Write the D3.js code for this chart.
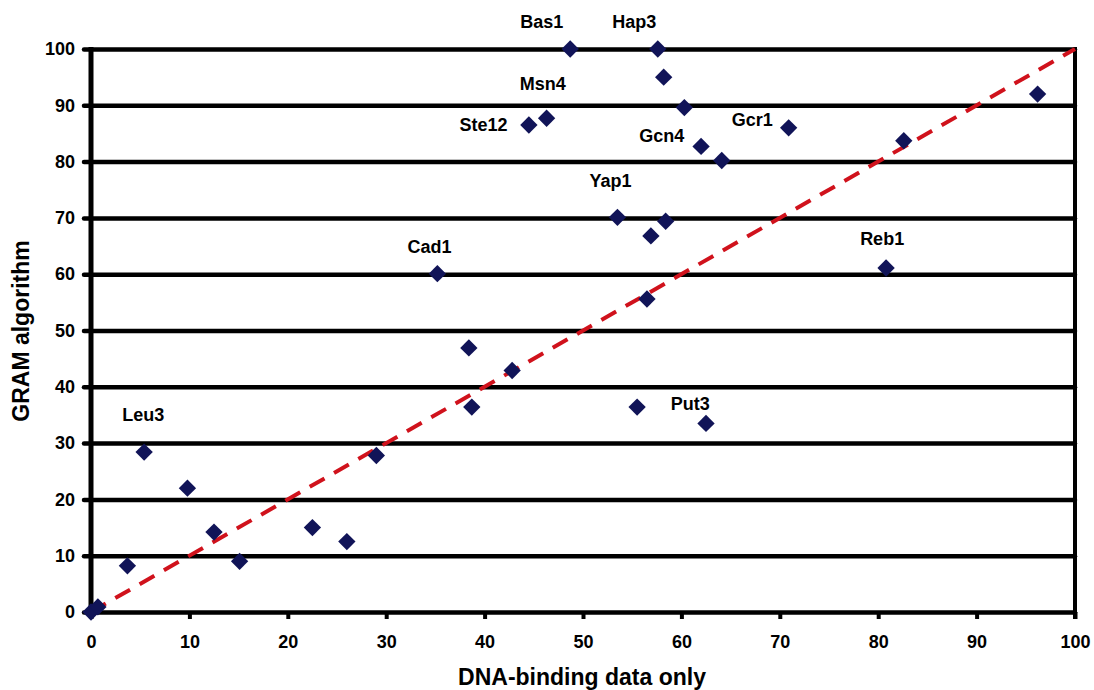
<!DOCTYPE html>
<html>
<head>
<meta charset="utf-8">
<script src="https://cdn.jsdelivr.net/npm/d3@7"></script>
<style>
  body { margin: 0; background: #fff; }
  text { font-family: "Liberation Sans", Arial, sans-serif; font-weight: bold; }
</style>
</head>
<body>
<div id="chart"></div>
<script>
let w = 1094;
let h = 690;
let margin = {top: 49, right: 19, bottom: 78, left: 91};

// values
let dnaOnly = [0, 0.7, 3.7, 5.4, 9.8, 12.5, 15.1, 22.5, 26.0, 29.0, 35.2, 38.4, 38.7, 42.8,
  55.5, 62.5, 56.5, 56.9, 58.4, 53.5, 48.7, 57.6, 58.2, 60.3, 44.5, 46.3, 62.0, 64.1, 70.9,
  82.6, 96.2, 80.8];
let gram = [0, 0.9, 8.2, 28.4, 22.0, 14.2, 9.0, 15.0, 12.5, 27.8, 60.1, 46.9, 36.4, 42.9,
  36.4, 33.5, 55.6, 66.8, 69.4, 70.1, 100, 100, 95.0, 89.6, 86.5, 87.7, 82.7, 80.2, 86.0,
  83.7, 92.0, 61.1];

// factor labels, anchored in data units (text centre / baseline)
let labelNames = ["Bas1", "Hap3", "Msn4", "Ste12", "Gcn4", "Gcr1", "Yap1", "Cad1", "Reb1", "Leu3", "Put3"];
let labelX = [45.8, 55.2, 45.9, 39.9, 58.0, 67.2, 52.8, 34.4, 80.4, 5.3, 60.9];
let labelY = [103.7, 103.7, 92.7, 85.4, 83.5, 86.3, 75.4, 63.8, 65.2, 33.9, 35.9];

let xTicks = d3.range(0, 101, 10);
let yTicks = d3.range(0, 101, 10);

let iw = w - margin.left - margin.right;
let ih = h - margin.top - margin.bottom;

let svg = d3.select("#chart")
  .append("svg")
  .attr("width", w)
  .attr("height", h);

let viz = svg.append("g")
  .attr("transform", "translate(" + margin.left + "," + margin.top + ")");

let xScale = d3.scaleLinear().domain([0, 100]).range([0, iw]);
let yScale = d3.scaleLinear().domain([0, 100]).range([ih, 0]);

// horizontal grid lines doubling as y ticks
let yAxis = d3.axisLeft(yScale)
  .tickValues(yTicks)
  .tickSizeInner(-iw)
  .tickSizeOuter(0)
  .tickPadding(16);

let yAxisGroup = viz.append("g").attr("class", "yaxis").call(yAxis);
yAxisGroup.select(".domain").remove();
yAxisGroup.selectAll(".tick line")
  .attr("x1", -7)
  .attr("stroke", "#000")
  .attr("stroke-width", 4.5)
  .attr("stroke-linecap", "round");
yAxisGroup.selectAll(".tick text")
  .attr("font-size", 18)
  .attr("fill", "#000");

let xAxis = d3.axisBottom(xScale)
  .tickValues(xTicks)
  .tickSizeInner(7)
  .tickSizeOuter(0)
  .tickPadding(16);

let xAxisGroup = viz.append("g")
  .attr("class", "xaxis")
  .attr("transform", "translate(0," + ih + ")")
  .call(xAxis);
xAxisGroup.select(".domain").remove();
xAxisGroup.selectAll(".tick line")
  .attr("stroke", "#000")
  .attr("stroke-width", 4);
xAxisGroup.selectAll(".tick text")
  .attr("font-size", 18)
  .attr("fill", "#000");

// left and right frame lines
viz.append("line")
  .attr("x1", xScale(0)).attr("x2", xScale(0))
  .attr("y1", yScale(100) - 2).attr("y2", yScale(0) + 2)
  .attr("stroke", "#000").attr("stroke-width", 5);
viz.append("line")
  .attr("x1", xScale(100)).attr("x2", xScale(100))
  .attr("y1", yScale(100) - 2).attr("y2", yScale(0) + 7)
  .attr("stroke", "#000").attr("stroke-width", 4);

// diagonal y = x
viz.append("line")
  .attr("x1", xScale(0)).attr("y1", yScale(0))
  .attr("x2", xScale(100)).attr("y2", yScale(100))
  .attr("stroke", "#d0121c")
  .attr("stroke-width", 4)
  .attr("stroke-dasharray", "17,11");

let points = dnaOnly.map(function(d, i){
  return {x: d, y: gram[i]};
});

let diamond = d3.symbol().type(d3.symbolSquare).size(150);

viz.selectAll(".datapoint").data(points).enter()
  .append("path")
  .attr("class", "datapoint")
  .attr("d", diamond)
  .attr("fill", "#111458")
  .attr("transform", function(d){
    return "translate(" + xScale(d.x) + "," + yScale(d.y) + ") rotate(45)";
  });

viz.selectAll(".label").data(labelNames).enter()
  .append("text")
  .attr("class", "label")
  .attr("x", function(d, i){ return xScale(labelX[i]); })
  .attr("y", function(d, i){ return yScale(labelY[i]); })
  .attr("text-anchor", "middle")
  .attr("font-size", 18)
  .attr("fill", "#000")
  .text(function(d){ return d; });

// axis titles
svg.append("text")
  .attr("x", 582)
  .attr("y", 685)
  .attr("text-anchor", "middle")
  .attr("font-size", 23)
  .attr("fill", "#000")
  .text("DNA-binding data only");

svg.append("text")
  .attr("transform", "translate(29,331) rotate(-90)")
  .attr("text-anchor", "middle")
  .attr("font-size", 23)
  .attr("fill", "#000")
  .text("GRAM algorithm");
</script>
</body>
</html>
